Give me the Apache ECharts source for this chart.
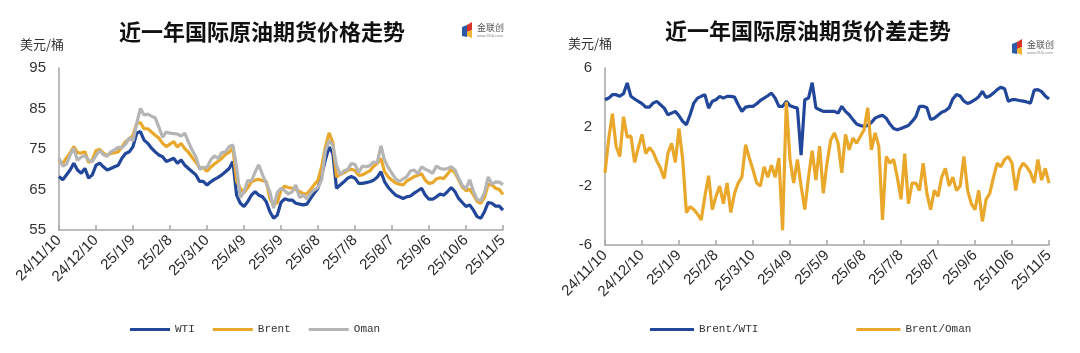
<!DOCTYPE html>
<html>
<head>
<meta charset="utf-8">
<script src="https://cdn.jsdelivr.net/npm/echarts@6/dist/echarts.min.js"></script>
<style>
  html, body { margin: 0; padding: 0; background: #fff; }
  #main { width: 1080px; height: 353px; }
</style>
</head>
<body>
<div id="main"></div>
<script>
// 日期：2024/11/10 起每 3 天一个点，刻度每 30 天
const startDay = Date.UTC(2024, 10, 10);
const dates = [];
for (let i = 0; i <= 120; i++) {
  const d = new Date(startDay + i * 3 * 86400000);
  dates.push(String(d.getUTCFullYear()).slice(2) + '/' + (d.getUTCMonth() + 1) + '/' + d.getUTCDate());
}

// 价格（美元/桶）
const wti = [
  68.2, 67.4, 68.6, 69.8, 71.5, 69.8, 69.0, 70.2, 67.8, 68.6,
  71.0, 71.5, 70.6, 69.8, 70.2, 70.6, 71.0, 72.7, 73.9, 74.3,
  75.6, 78.9, 79.3, 77.2, 76.4, 75.2, 74.3, 73.5, 73.1, 71.9,
  72.3, 72.7, 71.5, 72.3, 71.0, 70.2, 69.4, 68.6, 67.0, 67.0,
  66.1, 66.9, 67.5, 68.0, 68.6, 69.4, 70.2, 71.9, 63.6, 61.6,
  60.8, 62.0, 63.6, 64.5, 63.6, 63.2, 62.0, 59.5, 57.9, 58.7,
  61.8, 62.7, 62.4, 62.4, 61.6, 61.4, 61.2, 61.4, 62.8, 64.1,
  65.3, 68.6, 72.3, 75.5, 73.9, 65.3, 66.1, 66.9, 67.8, 68.2,
  67.8, 66.5, 66.5, 66.7, 66.9, 67.3, 68.0, 69.4, 66.9, 65.5,
  64.5, 63.6, 63.2, 62.8, 63.2, 63.4, 64.1, 64.7, 65.3, 63.6,
  62.6, 62.6, 63.2, 63.9, 63.6, 64.5, 65.5, 64.5, 62.8, 61.8,
  60.8, 61.2, 59.9, 58.3, 57.9, 59.5, 61.8, 61.6, 60.9, 60.9, 59.9
];
const brent = [
  72.1, 71.4, 72.8, 74.0, 75.6, 74.1, 74.0, 74.3, 71.7, 72.3,
  74.6, 74.9, 74.0, 73.4, 73.9, 74.1, 74.3, 75.5, 76.8, 77.4,
  78.4, 81.3, 81.5, 80.0, 80.0, 79.2, 78.4, 77.7, 76.4, 75.6,
  76.2, 76.8, 75.5, 76.4, 75.1, 74.2, 72.9, 71.7, 70.4, 70.4,
  69.5, 70.5, 71.3, 72.0, 72.7, 73.7, 74.2, 75.3, 67.0, 65.3,
  64.2, 65.4, 66.9, 67.3, 67.5, 67.2, 67.0, 62.8, 61.1, 61.8,
  64.9, 65.8, 65.5, 65.3, 65.0, 64.5, 64.0, 63.9, 65.0, 66.2,
  67.3, 70.7, 75.5, 79.0, 76.6, 68.1, 68.7, 69.1, 69.7, 70.0,
  69.7, 68.5, 68.6, 69.1, 69.6, 70.7, 71.4, 72.7, 69.4, 68.1,
  67.3, 66.6, 66.3, 66.1, 67.1, 67.6, 68.2, 68.5, 68.9, 67.3,
  66.5, 66.7, 67.6, 67.9, 67.7, 68.8, 70.0, 69.2, 67.4, 65.6,
  64.7, 65.1, 63.7, 62.1, 61.6, 63.1, 66.3, 66.1, 65.3, 65.0, 63.8
];
const oman = [
  72.8, 70.8, 71.2, 73.5, 75.2, 72.2, 73.0, 73.4, 72.2, 71.9,
  73.4, 74.6, 73.6, 73.2, 74.3, 74.8, 75.4, 75.3, 76.2, 77.8,
  77.0, 81.3, 85.0, 83.4, 83.6, 83.1, 82.7, 80.4, 77.9, 79.2,
  78.9, 78.8, 78.7, 78.2, 78.9, 76.7, 74.7, 73.1, 70.0, 70.5,
  70.4, 72.3, 73.3, 72.7, 74.1, 74.3, 75.6, 76.0, 70.5, 63.0,
  64.4, 67.2, 67.1, 69.3, 71.1, 68.6, 66.6, 64.4, 60.4, 64.3,
  65.3, 64.7, 63.9, 64.4, 66.1, 63.0, 63.6, 62.7, 64.1, 64.9,
  65.5, 67.4, 74.5, 77.0, 76.0, 71.0, 68.7, 69.6, 69.9, 71.4,
  71.2, 69.2, 70.8, 70.6, 70.9, 71.8, 71.6, 75.8, 72.2, 70.4,
  69.0, 67.6, 67.0, 67.6, 68.2, 69.6, 69.8, 68.9, 70.6, 70.0,
  69.6, 69.0, 70.8, 70.2, 70.0, 70.2, 70.6, 69.9, 67.8, 66.0,
  65.2, 67.4, 64.6, 62.5, 62.3, 64.2, 68.1, 66.3, 66.9, 66.8, 66.2
];

// 价差（美元/桶）
const brentWti = [
  3.85, 3.96, 4.19, 4.19, 4.08, 4.26, 4.98, 4.08, 3.9, 3.74,
  3.58, 3.35, 3.35, 3.62, 3.74, 3.51, 3.28, 2.83, 2.94, 3.06,
  2.76, 2.38, 2.15, 2.83, 3.62, 3.96, 4.08, 4.19, 3.28, 3.74,
  3.85, 4.08, 3.96, 4.08, 4.08, 4.03, 3.51, 3.06, 3.35, 3.4,
  3.4, 3.58, 3.8, 3.96, 4.12, 4.3, 3.96, 3.4, 3.4, 3.74,
  3.44, 3.35, 3.28, 0.1, 3.85, 3.96, 5.0, 3.3, 3.17, 3.06,
  3.06, 3.06, 3.06, 2.94, 3.4, 3.06, 2.83, 2.5, 2.2, 2.1,
  2.04, 2.1, 2.3, 2.6, 2.72, 2.8, 2.6, 2.2, 1.9, 1.81,
  1.9, 2.0, 2.1, 2.38, 2.7, 3.4, 3.4, 3.3, 2.5, 2.6,
  2.8, 3.0, 3.1, 3.3, 3.9, 4.2, 4.1, 3.75, 3.6, 3.7,
  3.85, 4.05, 4.42, 4.0, 4.1, 4.3, 4.53, 4.7, 4.6, 3.75,
  3.85, 3.85, 3.8, 3.75, 3.7, 3.62, 4.5, 4.53, 4.4, 4.1, 3.9
];
const brentOman = [
  -1.1, 1.2, 2.9, 0.7, 0.0, 2.7, 1.3, 1.4, -0.4, 0.6,
  1.5, 0.2, 0.6, 0.3, -0.3, -0.8, -1.5, 0.2, 0.9, -0.4,
  1.9, -0.2, -3.8, -3.4, -3.6, -3.9, -4.3, -2.7, -1.3, -3.6,
  -2.7, -2.0, -3.2, -1.8, -3.8, -2.5, -1.8, -1.4, 0.8, -0.1,
  -0.9, -1.8, -2.0, -0.7, -1.4, -0.6, -1.4, -0.1, -5.0, 3.7,
  -0.2, -1.8, -0.2, -2.0, -3.6, -1.4, 0.4, -1.6, 0.7, -2.5,
  -0.45, 1.1, 1.6, 0.9, -1.1, 1.5, 0.45, 1.25, 0.9, 1.35,
  1.8, 3.3, 0.45, 1.6, 0.7, -4.3, 0.0, -0.45, -0.2, -1.4,
  -2.9, 0.2, -3.2, -1.8, -1.8, -2.3, -0.45, -2.5, -3.6, -2.3,
  -2.7, -1.4, -0.8, -2.0, -1.4, -2.3, -2.0, 0.0, -2.3, -3.2,
  -3.6, -2.3, -4.4, -2.9, -2.5, -1.4, -0.45, -0.7, -0.2, 0.0,
  -0.45, -2.3, -0.9, -0.45, -0.7, -1.1, -1.8, -0.2, -1.6, -0.8, -1.8
];

const BLUE = '#22479a';
const GOLD = '#e9a82b';
const GRAY = '#b5b5b5';
const AXIS = '#a6a6a6';
const TICK_FONT = '"Liberation Sans Narrow", "Liberation Sans", sans-serif';

function xAxisFor(gridIndex) {
  return {
    type: 'category',
    gridIndex: gridIndex,
    data: dates,
    boundaryGap: false,
    axisLine: { onZero: false, lineStyle: { color: AXIS, width: 1.5 } },
    axisTick: { inside: true, length: 5, interval: 9, lineStyle: { color: AXIS, width: 1.5 } },
    axisLabel: {
      interval: 9, rotate: 45, margin: 8,
      fontSize: 15, color: '#2b2b2b', fontFamily: TICK_FONT
    }
  };
}

function yAxisFor(gridIndex, min, max, interval) {
  return {
    type: 'value',
    gridIndex: gridIndex,
    min: min, max: max, interval: interval,
    splitLine: { show: false },
    axisTick: { show: false },
    axisLine: { show: true, lineStyle: { color: AXIS, width: 1.5 } },
    axisLabel: { margin: 13, fontSize: 15, color: '#333', fontFamily: 'Liberation Sans' }
  };
}

function line(name, data, color, xi) {
  return {
    name: name, type: 'line', data: data,
    xAxisIndex: xi, yAxisIndex: xi,
    symbol: 'none', silent: true, animation: false,
    lineStyle: { color: color, width: 3.2 },
    itemStyle: { color: color }
  };
}

function logo(x, y) {
  return {
    type: 'group', x: x, y: y,
    children: [
      { type: 'polygon', shape: { points: [[0, 5], [5, 3], [5, 15], [0, 14]] }, style: { fill: '#2d5aa8' } },
      { type: 'polygon', shape: { points: [[5, 3], [10, 0], [10, 8], [5, 10]] }, style: { fill: '#d8332b' } },
      { type: 'polygon', shape: { points: [[5, 10], [10, 8], [10, 16], [5, 14]] }, style: { fill: '#f0b533' } },
      { type: 'text', x: 15, y: 1, style: { text: '金联创', font: '9px "Noto Sans CJK SC"', fill: '#555' } },
      { type: 'text', x: 15, y: 12, style: { text: 'www.315i.com', font: '4px sans-serif', fill: '#888' } }
    ]
  };
}

const legendText = { fontSize: 11, color: '#333', fontFamily: 'Liberation Mono' };

const chart = echarts.init(document.getElementById('main'));
chart.setOption({
  animation: false,
  backgroundColor: '#fff',
  grid: [
    { left: 59, right: 577, top: 68, bottom: 123 },
    { left: 605, right: 31, top: 68, bottom: 108 }
  ],
  xAxis: [xAxisFor(0), xAxisFor(1)],
  yAxis: [yAxisFor(0, 55, 95, 10), yAxisFor(1, -6, 6, 4)],
  legend: [
    {
      data: ['WTI', 'Brent', 'Oman'], left: 125, top: 319, icon: 'rect',
      itemWidth: 40, itemHeight: 3, itemGap: 18, textStyle: legendText
    },
    {
      data: ['Brent/WTI', 'Brent/Oman'], left: 645, top: 319, icon: 'rect',
      itemWidth: 44, itemHeight: 3, itemGap: 98, textStyle: legendText
    }
  ],
  series: [
    line('WTI', wti, BLUE, 0),
    line('Brent', brent, GOLD, 0),
    line('Oman', oman, GRAY, 0),
    line('Brent/WTI', brentWti, BLUE, 1),
    line('Brent/Oman', brentOman, GOLD, 1)
  ],
  graphic: [
    { type: 'text', x: 262, y: 32, style: { text: '近一年国际原油期货价格走势', font: 'bold 22px "Noto Sans CJK SC"', fill: '#111', textAlign: 'center', textVerticalAlign: 'middle' } },
    { type: 'text', x: 808, y: 31, style: { text: '近一年国际原油期货价差走势', font: 'bold 22px "Noto Sans CJK SC"', fill: '#111', textAlign: 'center', textVerticalAlign: 'middle' } },
    { type: 'text', x: 20, y: 44, style: { text: '美元/桶', font: '13px "Noto Sans CJK SC"', fill: '#333', textVerticalAlign: 'middle' } },
    { type: 'text', x: 568, y: 43, style: { text: '美元/桶', font: '13px "Noto Sans CJK SC"', fill: '#333', textVerticalAlign: 'middle' } },
    logo(462, 22),
    logo(1012, 39)
  ]
});
</script>
</body>
</html>
